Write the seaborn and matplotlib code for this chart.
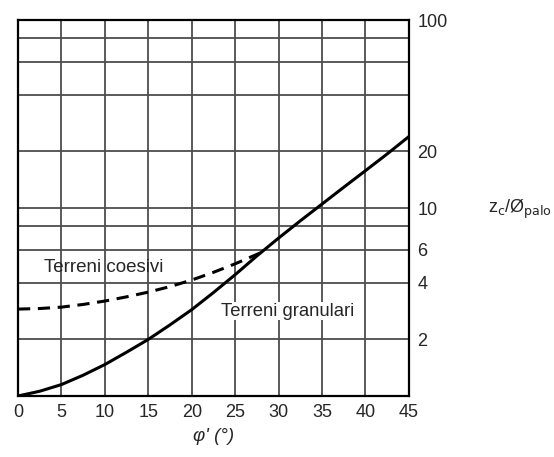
import numpy as np
import pandas as pd
import seaborn as sns
import matplotlib.pyplot as plt

# values
phi_gran = [0, 2.5, 5, 7.5, 10, 12.5, 15, 17.5, 20, 22.5, 25, 27.5, 30, 32.5, 35, 37.5, 40, 42.5, 45]
zc_gran = [1.0, 1.06, 1.15, 1.29, 1.47, 1.71, 2.0, 2.39, 2.88, 3.55, 4.42, 5.56, 6.92, 8.55, 10.5, 12.9, 15.8, 19.4, 24.0]

phi_coes = [0, 2.5, 5, 7.5, 10, 12.5, 15, 17.5, 20, 22.5, 25, 28]
zc_coes = [2.9, 2.92, 2.97, 3.07, 3.2, 3.37, 3.57, 3.82, 4.14, 4.55, 5.05, 5.8]

x_ticks = [0, 5, 10, 15, 20, 25, 30, 35, 40, 45]
y_grid = [1, 2, 4, 6, 8, 10, 20, 40, 60, 80, 100]
y_labels = [2, 4, 6, 10, 20, 100]

sns.set_style("white")
plt.rcParams['font.family'] = ['Liberation Sans', 'DejaVu Sans']

fig = plt.figure(figsize=(5.54, 4.57), dpi=100)
ax = fig.add_axes([0.0325, 0.1335, 0.7055, 0.8225])

gran = pd.DataFrame({"phi": phi_gran, "zc": zc_gran})
coes = pd.DataFrame({"phi": phi_coes, "zc": zc_coes})

ax.set_yscale("log")
ax.set_xlim(0, 45)
ax.set_ylim(1, 100)

# grid
for v in x_ticks:
    ax.axvline(v, color="#4d4d4d", lw=1.3, zorder=1)
for v in y_grid:
    ax.axhline(v, color="#4d4d4d", lw=1.3, zorder=1)

sns.lineplot(data=gran, x="phi", y="zc", ax=ax, color="black", lw=2.2, zorder=3)
sns.lineplot(data=coes, x="phi", y="zc", ax=ax, color="black", lw=2.2,
             linestyle=(0, (4, 2.5)), zorder=3)

ax.text(3.0, 4.8, "Terreni coesivi", fontsize=13.5, va="center", ha="left")
ax.text(23.4, 2.83, "Terreni granulari", fontsize=13.3, va="center", ha="left",
        bbox=dict(facecolor="white", edgecolor="none", pad=0.5))

ax.set_xticks(x_ticks)
ax.set_xticklabels([str(v) for v in x_ticks], fontsize=13)
ax.yaxis.tick_right()
ax.set_yticks(y_labels)
ax.set_yticklabels([str(v) for v in y_labels], fontsize=13)
ax.yaxis.set_minor_locator(plt.NullLocator())
ax.tick_params(axis="both", length=0, pad=6)

ax.set_xlabel("φ' (°)", fontsize=13.5, style="italic", labelpad=5)
ax.set_ylabel("")
fig.text(0.88, (457 - 209) / 457, r"z$_\mathrm{c}$/Ø$_\mathrm{palo}$", fontsize=13,
         va="center", ha="left")

for s in ax.spines.values():
    s.set_color("black")
    s.set_linewidth(1.6)

fig.savefig("out.png", dpi=100)
